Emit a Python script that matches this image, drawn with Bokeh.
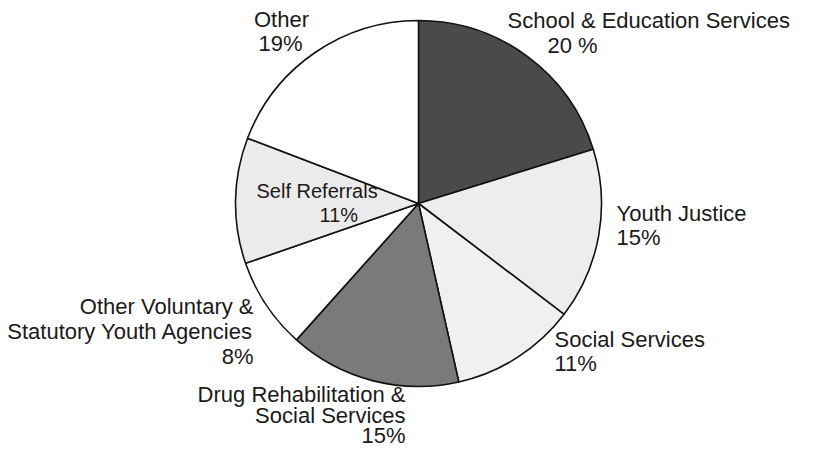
import numpy as np
from bokeh.plotting import figure
from bokeh.models import ColumnDataSource, Range1d
from bokeh.embed import file_html
from bokeh.resources import INLINE
from bokeh.core.properties import value

# ---- data ----
categories = ["School & Education Services", "Youth Justice", "Social Services",
              "Drug Rehabilitation & Social Services",
              "Other Voluntary & Statutory Youth Agencies",
              "Self Referrals", "Other"]
shares = [20, 15, 11, 15, 8, 11, 19]
pct_labels = ["20 %", "15%", "11%", "15%", "8%", "11%", "19%"]
name_lines = [["School & Education Services"], ["Youth Justice"], ["Social Services"],
              ["Drug Rehabilitation &", "Social Services"],
              ["Other Voluntary &", "Statutory Youth Agencies"],
              ["Self Referrals"], ["Other"]]

# ---- styles / layout ----
fills = ["#4a4a4a", "#ededed", "#f0f0f0", "#7a7a7a", "#ffffff", "#ebebeb", "#ffffff"]
W, H = 805, 448
def fx(x): return x - 8
def fy(y): return H - (y - 8)

cx, cy, R = fx(426), fy(211), 183
# label anchors in page px: (name_x, first_baseline, align, pct_x, pct_baseline, line_step, font_px)
anchors = [
    (515, 28, "left", 555, 53, 24, 22),
    (624, 221, "left", 624, 245, 24, 22),
    (562, 347, "left", 562, 371, 24, 22),
    (413, 402, "right", 413, 443, 21, 22),
    (261, 314, "right", 261, 364, 25, 22),
    (264, 198, "left", 327, 222, 24, 20),
    (289, 27, "center", 288, 51, 24, 22),
]

p = figure(width=W, height=H, x_range=Range1d(0, W), y_range=Range1d(0, H),
           toolbar_location=None, output_backend="svg", min_border=0)
p.axis.visible = False
p.grid.visible = False
p.outline_line_color = None
p.background_fill_color = "white"

total = float(sum(shares))
ang = np.array(shares) / total * 2 * np.pi
ends_cum = np.cumsum(ang)
starts = np.pi / 2 - (ends_cum - ang)
ends = np.pi / 2 - ends_cum

src = ColumnDataSource(dict(cat=categories, start=starts, end=ends, fill=fills,
                            x=[cx] * len(shares), y=[cy] * len(shares)))
p.wedge(x="x", y="y", radius=R, radius_units="screen", start_angle="start",
        end_angle="end", direction="clock", fill_color="fill",
        line_color="#111111", line_width=1.6, source=src)

tx, ty, tt, ta, tf = [], [], [], [], []
for lines, pct, (nx, nb, al, px, pb, step, fs) in zip(name_lines, pct_labels, anchors):
    for i, ln in enumerate(lines):
        tx.append(fx(nx)); ty.append(fy(nb + i * step)); tt.append(ln); ta.append(al)
        tf.append(f"{fs}px")
    tx.append(fx(px)); ty.append(fy(pb)); tt.append(pct); ta.append(al); tf.append(f"{fs}px")

tsrc = ColumnDataSource(dict(x=tx, y=ty, t=tt, a=ta, f=tf))
p.text(x="x", y="y", text="t", text_align="a", text_baseline="alphabetic",
       text_font=value("Liberation Sans"), text_font_size="f",
       text_color="#1a1a1a", source=tsrc)

open("out.html", "w").write(file_html(p, INLINE))
